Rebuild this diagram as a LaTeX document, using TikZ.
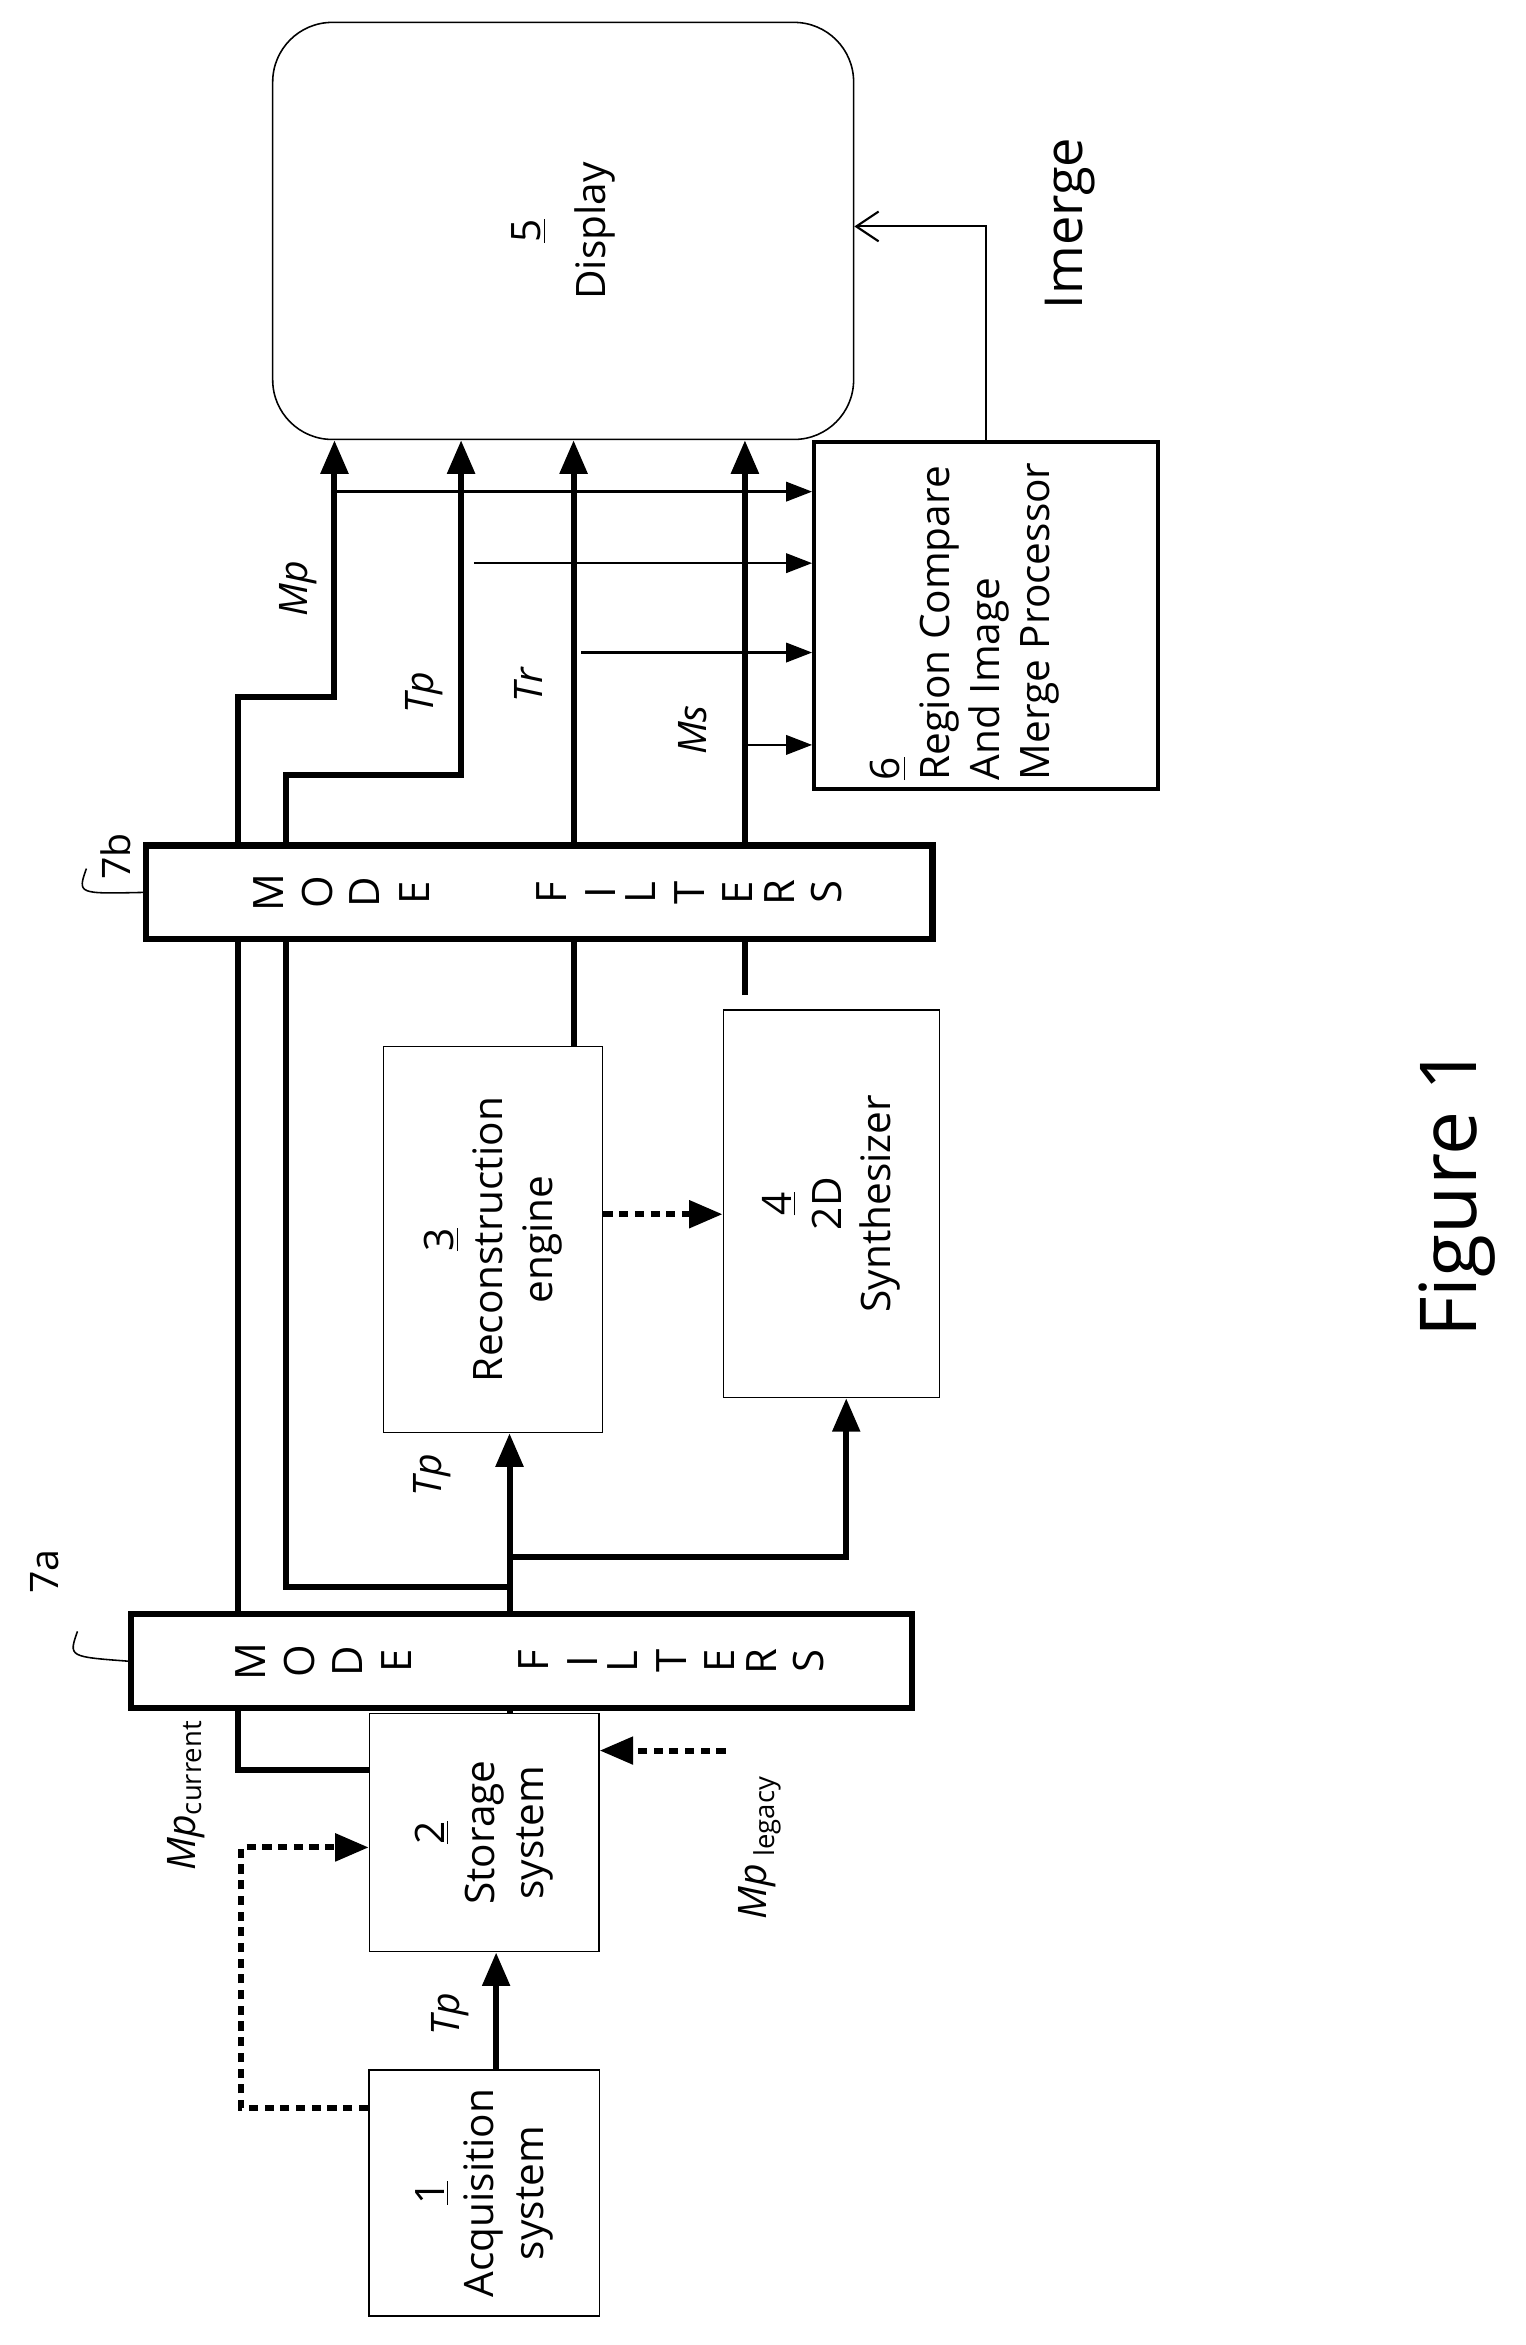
\documentclass[tikz,border=0pt]{standalone}
\usepackage{fontspec}
\setmainfont{Open Sans}
\usetikzlibrary{positioning,calc,arrows.meta,backgrounds}

\tikzset{
  box/.style = {draw, line width=0.6pt, fill=white, inner sep=0pt},
  filt/.style = {draw, line width=2.4pt, fill=white, inner sep=0pt,
                 minimum height=1.26cm},
  txt/.style = {rotate=90, align=center, font=\fontsize{15.5}{19}\selectfont},
  lab/.style = {rotate=90, font=\fontsize{15}{18}\selectfont\itshape},
  bus/.style = {line width=2.3pt},
  busarr/.style = {bus, -{Triangle[length=4.5mm,width=3.6mm]}},
  dotarr/.style = {bus, dash pattern=on 3.5pt off 2.5pt, -{Triangle[length=4.5mm,width=3.6mm]}},
  thinarr/.style = {line width=1pt, -{Triangle[length=3.5mm,width=2.6mm]}},
}

\begin{document}
\begin{tikzpicture}[x=0.02cm, y=-0.02cm]
  \useasboundingbox (0,0) rectangle (1024,1574);

  % Blocks
  \node[box, rounded corners=0.8cm, minimum width=7.8cm, minimum height=5.6cm] (disp) at (378,155) {};
  \node[box, line width=1.6pt, minimum width=4.62cm, minimum height=4.66cm] (merge) at (662,413) {};
  \node[filt, minimum width=10.56cm] (filtb) at (362,599) {};
  \node[filt, minimum width=10.48cm] (filta) at (350,1115) {};
  \node[box, minimum width=2.94cm, minimum height=5.18cm] (rec) at (331,832) {};
  \node[box, minimum width=2.9cm, minimum height=5.2cm] (syn) at (558,808) {};
  \node[box, minimum width=3.08cm, minimum height=3.2cm] (stor) at (325,1230) {};
  \node[box, minimum width=3.1cm, minimum height=3.3cm] (acq) at (325,1472) {};

  % Block texts
  \node[txt] at (disp) {\underline{5}\\[6pt]Display};
  \node[txt, anchor=north west, align=left, inner sep=0pt] at (584,524) {\underline{6}\\Region Compare\\And Image\\Merge Processor};
  \node[txt] at (rec) {\underline{3}\\Reconstruction\\engine};
  \node[txt] at (syn) {\underline{4}\\2D\\Synthesizer};
  \node[txt] at (stor) {\underline{2}\\Storage\\system};
  \node[txt] at (acq) {\underline{1}\\Acquisition\\system};
  \foreach \f in {filtb, filta}
    \foreach \l/\dx in {M/-182, O/-149, D/-117, E/-84, F/8, I/41, L/68, T/101, E/133, R/161, S/193}
      \node[rotate=90, font=\fontsize{16}{18}\selectfont] at ([xshift=\dx*0.02cm]\f.center) {\l};

  % Connectors
  \coordinate (tpA) at ([xshift=3.4mm]stor.north);
  \coordinate (jl) at (tpA |- 0,1065);
  \coordinate (jr) at (tpA |- 0,1045);
  \coordinate (mpA) at ([yshift=8.4mm]stor.west);
  \coordinate (trA) at ([xshift=10.8mm]rec.north);
  \coordinate (msA) at (500,668);
  \coordinate (cur) at ([yshift=11.4mm]acq.west);
  \coordinate (leg) at (487,1175);
  \begin{scope}[on background layer]
    \draw[busarr] (mpA) -| (160,468) -| ([xshift=8.4mm]disp.south west);
    \draw[busarr] (jl) -| (192,520) -| ([xshift=25.4mm]disp.south west);
    \draw[busarr] (tpA) -- (tpA |- rec.south);
    \draw[busarr] (jr) -| ([xshift=2mm]syn.south);
    \draw[busarr] (trA) -- (trA |- disp.south);
    \draw[busarr] (msA) -- (msA |- disp.south);
  \end{scope}
  \draw[busarr] ([xshift=1.6mm]acq.north) -- ([xshift=1.6mm]stor.south);
  \draw[dotarr] (cur) -| (162,1240) -- (stor.west |- 0,1240);
  \draw[dotarr] (leg) -- (stor.east |- leg);
  \draw[dotarr] (rec.east |- 0,815) -- (syn.west |- 0,815);
  \foreach \px/\py in {225/330, 318/378, 390/438, 500/500}
    \draw[thinarr] (\px,\py) -- (merge.west |- 0,\py);
  \draw[line width=0.8pt, -{Straight Barb[length=3mm,width=4mm]}] (merge.north) -- (merge.north |- 0,152) -- (disp.east |- 0,152);

  % Labels
  \node[lab] at (200,395) {Mp};
  \node[lab] at (285,465) {Tp};
  \node[lab] at (355,460) {Tr};
  \node[lab] at (465,490) {Ms};
  \node[lab] at (290,990) {Tp};
  \node[lab] at (302,1352) {Tp};
  \node[lab] at (125,1205) {Mp\textsubscript{\upshape current}};
  \node[lab] at (510,1240) {Mp\textsubscript{\upshape\ legacy}};
  \node[rotate=90, font=\fontsize{20}{24}\selectfont] at (718,150) {Imerge};
  \node[rotate=90, font=\fontsize{15}{18}\selectfont] at (30,1055) {7a};
  \node[rotate=90, font=\fontsize{15}{18}\selectfont] at (78,575) {7b};
  \draw[line width=0.6pt] (52,1095) .. controls (46,1112) .. (filta.west);
  \draw[line width=0.6pt] (58,583) .. controls (52,600) .. (filtb.west);
  \node[rotate=90, font=\fontsize{30}{36}\selectfont] at (978,800) {Figure 1};
\end{tikzpicture}
\end{document}
